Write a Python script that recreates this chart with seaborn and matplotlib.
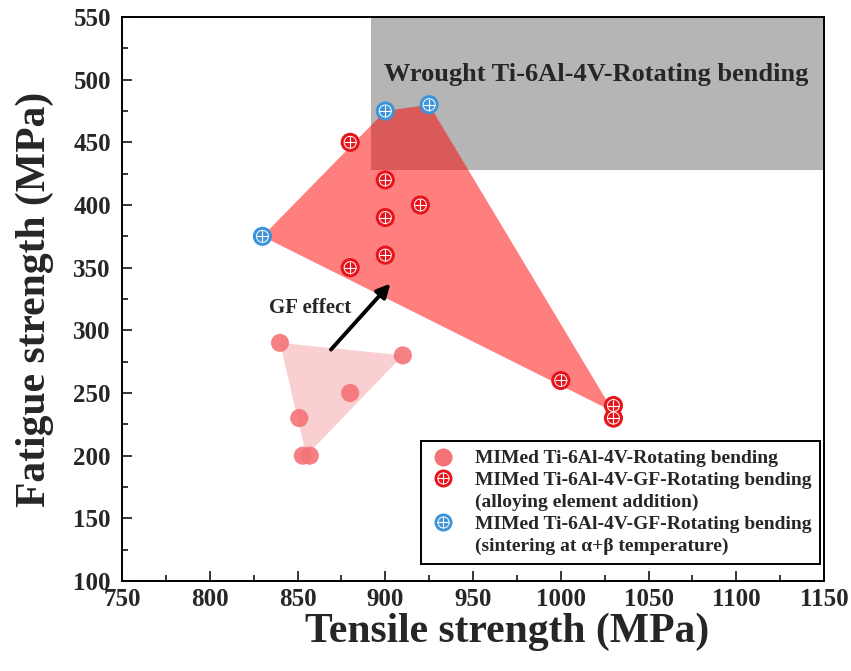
import pandas as pd
import matplotlib.pyplot as plt
import seaborn as sns
from matplotlib.lines import Line2D
from matplotlib.patches import Polygon, Rectangle
from matplotlib.legend_handler import HandlerTuple
from matplotlib.ticker import MultipleLocator

# MIMed Ti-6Al-4V (rotating bending)
mim_ts = [840, 851, 853, 857, 880, 910]
mim_fs = [290, 230, 200, 200, 250, 280]

# MIMed GF - alloying element addition
alloy_ts = [880, 900, 900, 900, 880, 920, 1000, 1030, 1030]
alloy_fs = [450, 420, 390, 360, 350, 400, 260, 240, 230]

# MIMed GF - sintering at alpha+beta temperature
sinter_ts = [830, 900, 925]
sinter_fs = [375, 475, 480]

# region outlines
gf_region_ts = [830, 900, 925, 1030]
gf_region_fs = [375, 475, 480, 235]
mim_region_ts = [840, 910, 855]
mim_region_fs = [290, 280, 200]

# wrought band
wrought_ts = (892, 1150)
wrought_fs = (428, 550)

sns.set_style("ticks")
plt.rcParams['font.family'] = ['Liberation Serif', 'DejaVu Serif']
plt.rcParams['font.weight'] = 'bold'

fig = plt.figure(figsize=(8.51, 6.71), dpi=100)
ax = fig.add_axes([0.1434, 0.1341, 0.8249, 0.8406])

# shaded regions
ax.add_patch(Rectangle((wrought_ts[0], wrought_fs[0]), wrought_ts[1] - wrought_ts[0],
                       wrought_fs[1] - wrought_fs[0], color='#9c9c9c', alpha=0.75, lw=0, zorder=1))
ax.add_patch(Polygon(list(zip(gf_region_ts, gf_region_fs)), closed=True,
                     color='#ff0000', alpha=0.5, lw=0, zorder=2))
ax.add_patch(Polygon(list(zip(mim_region_ts, mim_region_fs)), closed=True,
                     color='#f7b6ba', alpha=0.65, lw=0, zorder=2))

mim_c = '#f47377'
red_c = '#e8141b'
blue_c = '#3d94d8'


def plus_circle(x, y, c):
    sns.scatterplot(x=x, y=y, color=c, s=190, edgecolor='none', ax=ax, zorder=4)
    ax.scatter(x, y, s=75, facecolors='none', edgecolors='white', linewidths=0.7, zorder=5)
    ax.scatter(x, y, s=75, color='white', marker='+', linewidths=0.8, zorder=5)


sns.scatterplot(x=mim_ts, y=mim_fs, color=mim_c, s=170, edgecolor='none', alpha=0.9, ax=ax, zorder=4)
plus_circle(alloy_ts, alloy_fs, red_c)
plus_circle(sinter_ts, sinter_fs, blue_c)

ax.text(1020, 504, 'Wrought Ti-6Al-4V-Rotating bending', fontsize=19, fontweight='bold',
        ha='center', va='center', zorder=6)
ax.annotate('', xy=(904, 339), xytext=(868, 283),
            arrowprops=dict(arrowstyle='-|>', color='black', lw=2.8, mutation_scale=20), zorder=6)
ax.text(857, 318, 'GF effect', fontsize=15, fontweight='bold', ha='center', va='center', zorder=6)

ax.set_xlim(750, 1150)
ax.set_ylim(100, 550)
ax.xaxis.set_major_locator(MultipleLocator(50))
ax.xaxis.set_minor_locator(MultipleLocator(25))
ax.yaxis.set_major_locator(MultipleLocator(50))
ax.yaxis.set_minor_locator(MultipleLocator(25))
ax.tick_params(which='both', direction='in', width=1.3, top=False, right=False)
ax.tick_params(which='major', length=7, labelsize=18)
ax.tick_params(axis='x', which='major', pad=5)
ax.tick_params(axis='y', which='major', pad=8)
ax.tick_params(which='minor', length=4)
for lab in ax.get_xticklabels() + ax.get_yticklabels():
    lab.set_fontweight('bold')
for sp in ax.spines.values():
    sp.set_linewidth(1.4)
    sp.set_color('black')

ax.set_xlabel('Tensile strength (MPa)', fontsize=30, fontweight='bold')
ax.xaxis.set_label_coords(0.548, -0.055)
ax.set_ylabel('Fatigue strength (MPa)', fontsize=30, fontweight='bold', labelpad=14)

h1 = Line2D([], [], marker='o', ls='', color=mim_c, markersize=13, markeredgewidth=0)
blank = Line2D([], [], ls='', marker='')


def plus_handle(c):
    return (Line2D([], [], marker='o', ls='', color=c, markersize=13, markeredgewidth=0),
            Line2D([], [], marker='o', ls='', markerfacecolor='none', markeredgecolor='white',
                   markersize=8, markeredgewidth=0.7),
            Line2D([], [], marker='+', ls='', color='white', markersize=8, markeredgewidth=0.8))


labels = ['MIMed Ti-6Al-4V-Rotating bending',
          'MIMed Ti-6Al-4V-GF-Rotating bending',
          '(alloying element addition)',
          'MIMed Ti-6Al-4V-GF-Rotating bending',
          '(sintering at \u03b1+\u03b2 temperature)']
handles = [h1, plus_handle(red_c), blank, plus_handle(blue_c), blank]
leg = ax.legend(handles, labels,
                handler_map={tuple: HandlerTuple(ndivide=1)},
                loc='lower right', bbox_to_anchor=(0.997, 0.027), fontsize=14,
                frameon=True, fancybox=False, edgecolor='black', framealpha=1,
                handletextpad=1.0, handlelength=1.3, borderpad=0.45, borderaxespad=0.1,
                labelspacing=0.22)
leg.get_frame().set_linewidth(1.4)
for t in leg.get_texts():
    t.set_fontweight('bold')
leg.set_zorder(7)

plt.savefig('out.png', dpi=100)
